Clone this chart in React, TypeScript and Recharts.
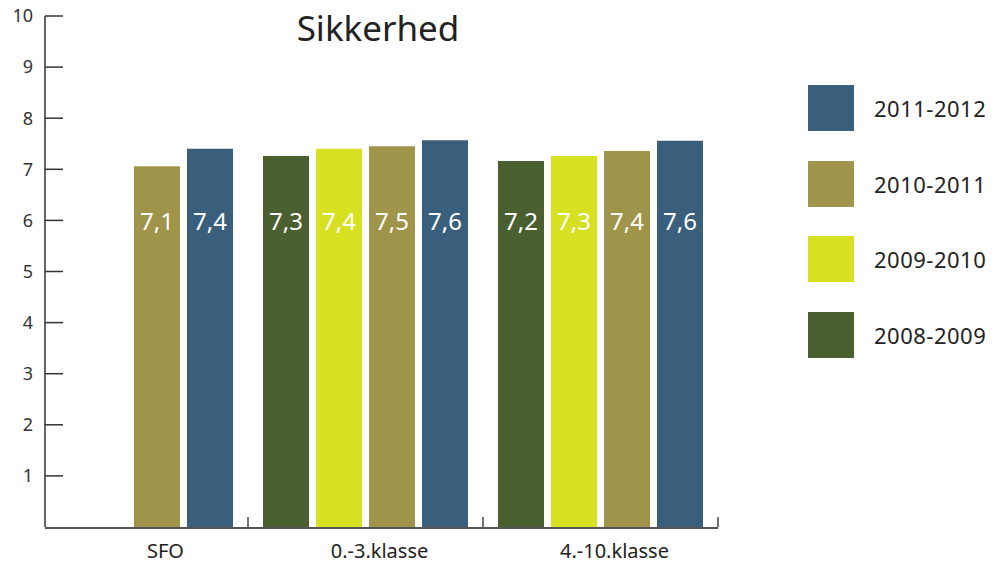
import { BarChart, Bar, XAxis, YAxis, LabelList } from "recharts";

const categories = ["SFO", "0.-3.klasse", "4.-10.klasse"];
const years = ["2008-2009", "2009-2010", "2010-2011", "2011-2012"];
const s0809 = [null, 7.26, 7.16];
const s0910 = [null, 7.4, 7.26];
const s1011 = [7.06, 7.45, 7.36];
const s1112 = [7.4, 7.57, 7.56];
const yTicks = [1, 2, 3, 4, 5, 6, 7, 8, 9, 10];
const groupTicks = [1, 2, 3];

const colors = ["#4a6030", "#d7e021", "#a0934a", "#395f7c"];
const font = "'Noto Sans', 'DejaVu Sans', sans-serif";

const chartData = categories.map((c, i) => ({
  name: c,
  pos: i + 0.5,
  y0: s0809[i],
  y1: s0910[i],
  y2: s1011[i],
  y3: s1112[i],
}));

const fmt = (v: any) => (v == null ? "" : Number(v).toFixed(1).replace(".", ","));

function CatTick(props: any) {
  const { x, y, payload, index } = props;
  const dx = index === 0 ? 35 : 14;
  return (
    <text
      x={x + dx}
      y={y}
      dy="0.71em"
      textAnchor="middle"
      fill="#222"
      fontSize={20}
      fontFamily={font}
    >
      {payload.value}
    </text>
  );
}

const NoTick = () => <g />;

export default function App() {
  return (
    <div
      style={{
        position: "absolute",
        left: 0,
        top: 0,
        width: 995,
        height: 564,
        background: "#fff",
        fontFamily: font,
      }}
    >
      <div
        style={{
          position: "absolute",
          left: 0,
          top: 8,
          width: 756,
          textAlign: "center",
          fontSize: 35,
          lineHeight: "40px",
          color: "#222",
        }}
      >
        Sikkerhed
      </div>

      <BarChart
        width={995}
        height={564}
        data={chartData}
        margin={{ top: 16, right: 277, left: 0, bottom: 0 }}
        barSize={46}
        barGap={7}
      >
        <XAxis
          xAxisId="b"
          dataKey="name"
          padding={{ left: -32, right: 0 }}
          height={36}
          axisLine={{ stroke: "#555", strokeWidth: 2 }}
          tickLine={false}
          tickSize={0}
          tickMargin={16}
          tick={<CatTick />}
          interval={0}
        />
        <XAxis
          xAxisId="a"
          dataKey="pos"
          type="number"
          domain={[0, 3]}
          ticks={groupTicks}
          interval={0}
          allowDataOverflow
          padding={{ left: -32, right: 0 }}
          height={1}
          axisLine={false}
          tick={<NoTick />}
          tickSize={-10}
          tickLine={{ stroke: "#444", strokeWidth: 1.5 }}
        />
        <YAxis
          domain={[0, 10]}
          ticks={yTicks}
          width={45}
          axisLine={{ stroke: "#333", strokeWidth: 1.5 }}
          tickLine={{ stroke: "#333", strokeWidth: 1.5 }}
          tickSize={-18}
          tickMargin={30}
          tick={{ fill: "#333", fontSize: 18, fontFamily: font }}
        />
        {["y0", "y1", "y2", "y3"].map((k, i) => (
          <Bar
            key={k}
            xAxisId="b"
            dataKey={k}
            name={years[i]}
            fill={colors[i]}
            isAnimationActive={false}
          >
            <LabelList
              dataKey={k}
              position="insideBottom"
              offset={297}
              fill="#fff"
              fontSize={24}
              fontFamily={font}
              formatter={fmt}
            />
          </Bar>
        ))}
      </BarChart>

      <div
        style={{
          position: "absolute",
          left: 808,
          top: 85,
          display: "flex",
          flexDirection: "column",
          gap: 29.7,
        }}
      >
        {years
          .map((y, i) => ({ y, c: colors[i] }))
          .reverse()
          .map((it) => (
            <div
              key={it.y}
              style={{ display: "flex", alignItems: "center", height: 46 }}
            >
              <div style={{ width: 46, height: 46, background: it.c }} />
              <span
                style={{
                  marginLeft: 20,
                  fontSize: 22,
                  color: "#222",
                  letterSpacing: 0.5,
                }}
              >
                {it.y}
              </span>
            </div>
          ))}
      </div>
    </div>
  );
}
